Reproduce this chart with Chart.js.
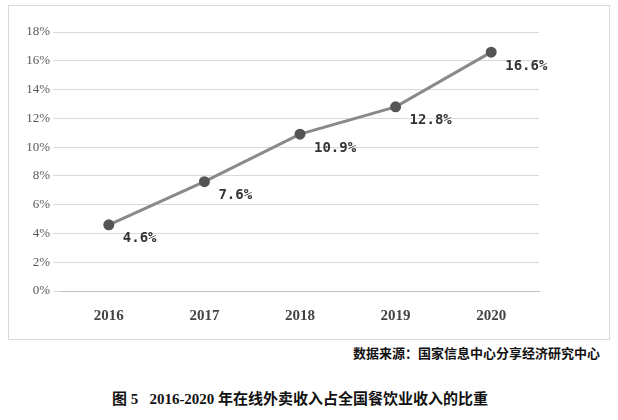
<!DOCTYPE html>
<html>
<head>
<meta charset="utf-8">
<script src="https://cdn.jsdelivr.net/npm/chart.js@4/dist/chart.umd.min.js"></script>
<style>
  body { margin: 0; width: 618px; height: 420px; background: #fff; position: relative; font-family: "Liberation Serif", serif; }
  #box { position: absolute; left: 8px; top: 5px; width: 600px; height: 333px; border: 1px solid #d9d9d9; }
  #src { position: absolute; right: 18px; top: 343px; font-size: 13px; font-weight: bold; font-family: "Noto Sans CJK SC", sans-serif; color: #111; }
  #cap { position: absolute; left: 0; width: 600px; top: 387px; text-align: center; font-size: 15px; font-weight: bold; font-family: "Liberation Serif", "Noto Sans CJK SC", serif; color: #111; }
</style>
</head>
<body>
<div id="box"><canvas id="myChart" width="600" height="333"></canvas></div>
<div id="src">数据来源：国家信息中心分享经济研究中心</div>
<div id="cap">图 5&nbsp;&nbsp;&nbsp;2016-2020 年在线外卖收入占全国餐饮业收入的比重</div>
<script>
var years = ['2016', '2017', '2018', '2019', '2020'];
var share = [4.6, 7.6, 10.9, 12.8, 16.6];

var pointLabels = {
    id: 'pointLabels',
    afterDatasetsDraw(chart) {
        let ctx = chart.ctx;
        let meta = chart.getDatasetMeta(0);
        ctx.save();
        ctx.font = 'bold 14px "DejaVu Sans Mono", monospace';
        ctx.fillStyle = '#333';
        ctx.textBaseline = 'middle';
        meta.data.forEach((p, i) => {
            ctx.fillText(share[i].toFixed(1) + '%', p.x + 14, p.y + 14);
        });
        ctx.restore();
    }
};

new Chart(document.getElementById('myChart'), {
    type: 'line',
    data: {
        labels: years,
        datasets: [{
            data: share,
            borderColor: '#8a8a8a',
            borderWidth: 3,
            pointRadius: 4,
            pointBackgroundColor: '#555',
            pointBorderColor: '#555',
            tension: 0
        }]
    },
    options: {
        responsive: false,
        animation: false,
        layout: { padding: { left: 0, right: 70, top: 26, bottom: 6 } },
        plugins: { legend: { display: false }, tooltip: { enabled: false } },
        scales: {
            x: {
                offset: true,
                grid: { display: false },
                border: { color: '#bfbfbf' },
                ticks: { color: '#444', font: { family: 'Liberation Serif', size: 15, weight: 'bold' }, padding: 8 }
            },
            y: {
                min: 0, max: 18,
                afterFit: (s) => { s.width = 52; },
                border: { display: false },
                grid: { color: '#d9d9d9' },
                ticks: { stepSize: 2, color: '#595959', font: { family: 'Liberation Serif', size: 13 }, callback: (v) => v + '%' }
            }
        }
    },
    plugins: [pointLabels]
});
</script>
</body>
</html>
